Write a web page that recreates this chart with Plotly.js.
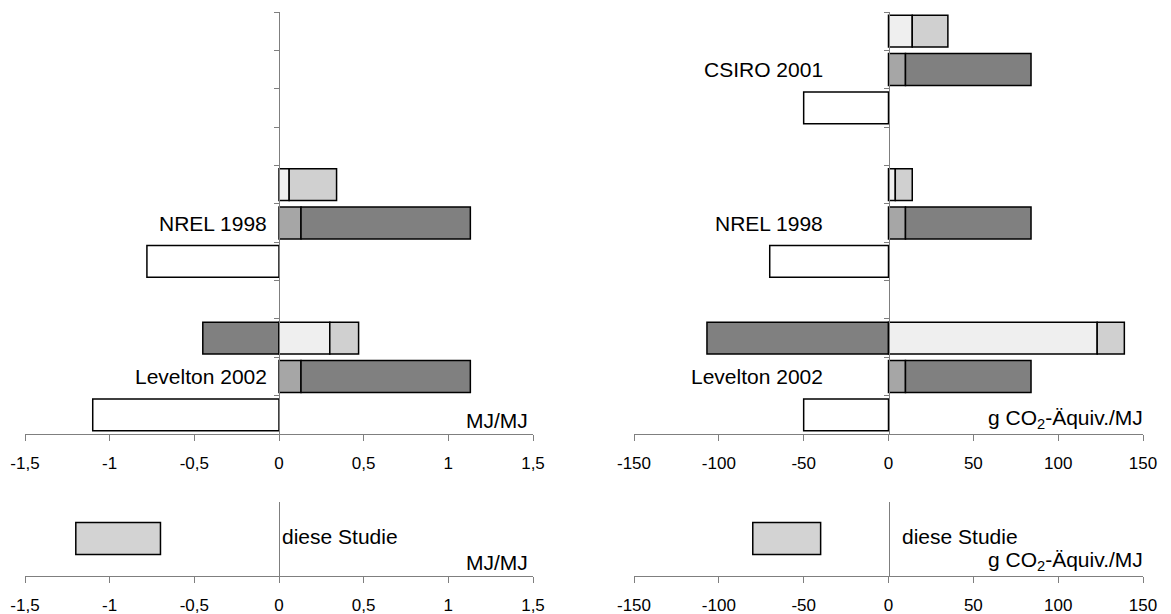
<!DOCTYPE html>
<html>
<head>
<meta charset="utf-8">
<script src="https://cdn.plot.ly/plotly-3.0.1.min.js"></script>
<style>html,body{margin:0;padding:0;background:#fff;}#chart{width:1171px;height:614px;}</style>
</head>
<body>
<div id="chart"></div>
<script>
// Row categories, bottom to top (gaps between studies are empty rows)
const rows = ['Levelton 2002 a','Levelton 2002 b','Levelton 2002 c','gap 1',
              'NREL 1998 a','NREL 1998 b','NREL 1998 c','gap 2',
              'CSIRO 2001 a','CSIRO 2001 b','CSIRO 2001 c'];
const studyLabelRows = {'Levelton 2002':'Levelton 2002 b','NREL 1998':'NREL 1998 b','CSIRO 2001':'CSIRO 2001 b'};

// Left chart: MJ/MJ (segment values, stacked per row)
const mjWhite     = [-1.10, null, null, null, -0.78, null, null, null, null, null, null];
const mjMid       = [null, 0.13, null, null, null, 0.13, null, null, null, null, null];
const mjDark      = [null, 1.00, -0.45, null, null, 1.00, null, null, null, null, null];
const mjVeryLight = [null, null, 0.30, null, null, null, 0.06, null, null, null, null];
const mjLight     = [null, null, 0.17, null, null, null, 0.28, null, null, null, null];
const mjStudies   = ['Levelton 2002','NREL 1998'];

// Right chart: g CO2-Äquiv./MJ
const co2White     = [-50, null, null, null, -70, null, null, null, -50, null, null];
const co2Mid       = [null, 10, null, null, null, 10, null, null, null, 10, null];
const co2Dark      = [null, 74, -107, null, null, 74, null, null, null, 74, null];
const co2VeryLight = [null, null, 123, null, null, null, 4, null, null, null, 14];
const co2Light     = [null, null, 16, null, null, null, 10, null, null, null, 21];
const co2Studies   = ['Levelton 2002','NREL 1998','CSIRO 2001'];

// This study (range min..max)
const thisStudyCat = ['diese Studie'];
const mjThisMin = [-1.2], mjThisMax = [-0.7];
const co2ThisMin = [-80], co2ThisMax = [-40];

// Tick labels
const mjTickVals = [-1.5,-1,-0.5,0,0.5,1,1.5];
const mjTickText = ['-1,5','-1','-0,5','0','0,5','1','1,5'];
const co2TickVals = [-150,-100,-50,0,50,100,150];
const co2TickText = ['-150','-100','-50','0','50','100','150'];

const C = {white:'#ffffff', mid:'#a6a6a6', dark:'#808080', verylight:'#efefef', light:'#d0d0d0', this:'#d3d3d3'};
const LINE = {color:'#000000', width:1.5};

function seg(vals, color, xa, ya){
  return {type:'bar', orientation:'h', x:vals, y:rows, xaxis:xa, yaxis:ya,
          marker:{color:color, line:LINE}, hoverinfo:'skip', showlegend:false};
}

const traces = [
  seg(mjWhite, C.white, 'x', 'y'),
  seg(mjMid, C.mid, 'x', 'y'),
  seg(mjDark, C.dark, 'x', 'y'),
  seg(mjVeryLight, C.verylight, 'x', 'y'),
  seg(mjLight, C.light, 'x', 'y'),
  seg(co2White, C.white, 'x2', 'y2'),
  seg(co2Mid, C.mid, 'x2', 'y2'),
  seg(co2Dark, C.dark, 'x2', 'y2'),
  seg(co2VeryLight, C.verylight, 'x2', 'y2'),
  seg(co2Light, C.light, 'x2', 'y2'),
  {type:'bar', orientation:'h', y:thisStudyCat, base:mjThisMin,
   x:mjThisMax.map((v,i)=>v-mjThisMin[i]), xaxis:'x3', yaxis:'y3',
   marker:{color:C.this, line:LINE}, hoverinfo:'skip', showlegend:false},
  {type:'bar', orientation:'h', y:thisStudyCat, base:co2ThisMin,
   x:co2ThisMax.map((v,i)=>v-co2ThisMin[i]), xaxis:'x4', yaxis:'y4',
   marker:{color:C.this, line:LINE}, hoverinfo:'skip', showlegend:false}
];

const W = 1171, H = 614;
const xL = [25/W, 533/W], xR = [634/W, 1143/W];
const yTop = [(H-434)/H, (H-12)/H], yBot = [(H-576)/H, (H-502)/H];
const FONT = 'Liberation Sans, Arial, sans-serif';

function xax(domain, anchor, range, tv, tt){
  return {domain:domain, anchor:anchor, range:range, tickmode:'array', tickvals:tv, ticktext:tt,
          showline:true, linecolor:'#7f7f7f', linewidth:1, ticks:'outside', ticklen:6, tickcolor:'#7f7f7f',
          tickwidth:1, showgrid:false, zeroline:false, fixedrange:true, ticklabelstandoff:8,
          tickfont:{family:FONT, size:17, color:'#000'}};
}
function yaxTop(xdom){
  return {domain:yTop, anchor:'free', position:(xdom[0]+xdom[1])/2, type:'category',
          categoryorder:'array', categoryarray:rows, range:[-0.5, rows.length-0.5],
          showline:true, linecolor:'#7f7f7f', linewidth:1, ticks:'outside', ticklen:5, tickcolor:'#7f7f7f',
          tickson:'boundaries', showticklabels:false, showgrid:false, zeroline:false, fixedrange:true};
}
function yaxBot(xdom){
  return {domain:yBot, anchor:'free', position:(xdom[0]+xdom[1])/2, type:'category',
          categoryarray:thisStudyCat, range:[-0.978, 0.951],
          showline:true, linecolor:'#7f7f7f', linewidth:1, ticks:'', showticklabels:false,
          showgrid:false, zeroline:false, fixedrange:true};
}

const annFont = {family:FONT, size:21, color:'#000'};
const annotations = [];
mjStudies.forEach(s => annotations.push({xref:'x', yref:'y', x:0, y:rows.indexOf(studyLabelRows[s]),
  text:s, showarrow:false, xanchor:'right', yanchor:'middle', xshift:-10, font:annFont}));
co2Studies.forEach(s => annotations.push({xref:'x2', yref:'y2', x:0, y:rows.indexOf(studyLabelRows[s]),
  text:s, showarrow:false, xanchor:'right', yanchor:'middle', xshift:-64, font:annFont}));
annotations.push({xref:'x', yref:'y', x:1.5, y:-0.5, text:'MJ/MJ', showarrow:false,
  xanchor:'right', yanchor:'bottom', xshift:-3, yshift:0, font:annFont});
annotations.push({xref:'x2', yref:'y2', x:150, y:-0.5, text:'g CO<sub>2</sub>-Äquiv./MJ', showarrow:false,
  xanchor:'right', yanchor:'bottom', xshift:2, yshift:0, font:annFont});
annotations.push({xref:'x3', yref:'y3', x:0, y:0, text:'diese Studie', showarrow:false,
  xanchor:'left', yanchor:'middle', xshift:1, yshift:2, font:annFont});
annotations.push({xref:'x4', yref:'y4', x:0, y:0, text:'diese Studie', showarrow:false,
  xanchor:'left', yanchor:'middle', xshift:11, yshift:2, font:annFont});
annotations.push({xref:'x3', yref:'y3', x:1.5, y:-0.978, text:'MJ/MJ', showarrow:false,
  xanchor:'right', yanchor:'bottom', xshift:-3, yshift:0, font:annFont});
annotations.push({xref:'x4', yref:'y4', x:150, y:-0.978, text:'g CO<sub>2</sub>-Äquiv./MJ', showarrow:false,
  xanchor:'right', yanchor:'bottom', xshift:2, yshift:0, font:annFont});

const layout = {
  width:W, height:H, margin:{l:0, r:0, t:0, b:0, pad:0},
  paper_bgcolor:'#fff', plot_bgcolor:'rgba(0,0,0,0)',
  barmode:'relative', bargap:0.17, showlegend:false, separators:',.',
  font:{family:FONT, color:'#000'},
  xaxis: xax(xL, 'y', [-1.5,1.5], mjTickVals, mjTickText),
  yaxis: yaxTop(xL),
  xaxis2: xax(xR, 'y2', [-150,150], co2TickVals, co2TickText),
  yaxis2: yaxTop(xR),
  xaxis3: xax(xL, 'y3', [-1.5,1.5], mjTickVals, mjTickText),
  yaxis3: yaxBot(xL),
  xaxis4: xax(xR, 'y4', [-150,150], co2TickVals, co2TickText),
  yaxis4: yaxBot(xR),
  annotations: annotations
};

Plotly.newPlot('chart', traces, layout, {staticPlot:true, displayModeBar:false});
</script>
</body>
</html>
